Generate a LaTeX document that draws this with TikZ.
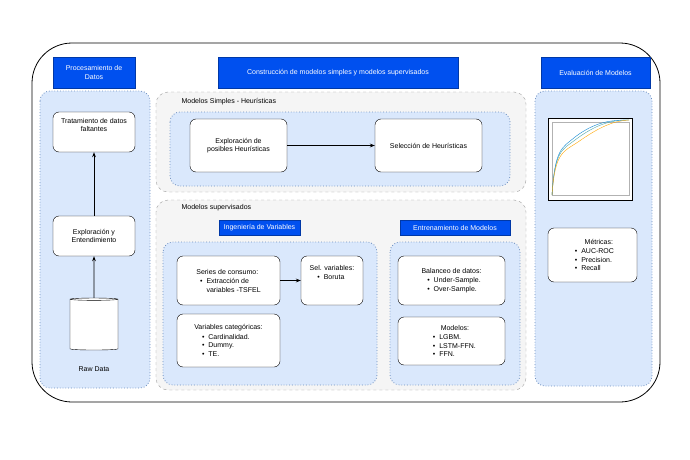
\documentclass[tikz,border=0pt]{standalone}
\usepackage{fontspec}
\setmainfont{Liberation Sans}
\usetikzlibrary{shapes.geometric,arrows.meta}
\definecolor{hb}{HTML}{0050EF}
\definecolor{lb}{HTML}{DAE8FC}
\definecolor{lbd}{HTML}{6C8EBF}
\definecolor{gp}{HTML}{F5F5F5}
\begin{document}
\begin{tikzpicture}[x=1pt,y=-1pt,font=\fontsize{7}{8.5}\selectfont,
 hdr/.style={fill=hb,draw=hb!70!black,text=white,align=center,inner sep=0pt},
 pan/.style={fill=lb,draw=lbd,dotted,thick,rounded corners=10pt},
 gpan/.style={fill=gp,draw=gray!80,dashed,rounded corners=12pt},
 box/.style={fill=white,draw=black,rounded corners=6pt,align=center,inner sep=0pt},
 arr/.style={-{Stealth[length=5pt]},thick}]
\useasboundingbox (0,0) rectangle (690,460);
\draw[rounded corners=40pt,thick] (32,43) rectangle (660,402);
% headers
\node[hdr,minimum width=82,minimum height=31] (h1) at (94,72.5) {Procesamiento de\\Datos};
\node[hdr,minimum width=240,minimum height=31] (h2) at (338,72.5) {Construcción de modelos simples y modelos supervisados};
\node[hdr,minimum width=109,minimum height=31] (h3) at (595.5,72.5) {Evaluación de Modelos};
% left panel
\draw[pan] (40,91) rectangle (150,388);
\node[box,minimum width=82,minimum height=40] (t) at (94,132) {Tratamiento de datos\\faltantes\\[6pt]};
\node[box,minimum width=82,minimum height=40] (e) at (94,236) {Exploración y\\Entendimiento};
\node[cylinder,shape border rotate=90,draw,fill=white,minimum width=48,minimum height=52,aspect=0.35] (c) at (94,325) {};
\node (rd) at (94,369) {Raw Data};
\draw[arr] (c) -- (e);
\draw[arr] (e) -- (t);
% simple models
\draw[gpan] (156,92) rectangle (526,192);
\node[anchor=west] (l1) at (178,102) {Modelos Simples - Heurísticas};
\draw[pan] (170,112) rectangle (510,186);
\node[box,minimum width=97,minimum height=53] (ep) at (238.5,145.5) {Exploración de\\posibles Heurísticas};
\node[box,minimum width=107,minimum height=53] (sh) at (428.5,145.5) {Selección de Heurísticas};
\draw[arr] (ep) -- (sh);
% supervised
\draw[gpan] (156,200) rectangle (526,390);
\node[anchor=west] (l2) at (178,208) {Modelos supervisados};
\node[hdr,minimum width=81,minimum height=15] (h4) at (259.5,227.5) {Ingeniería de Variables};
\node[hdr,minimum width=110,minimum height=15] (h5) at (455,227.5) {Entrenamiento de Modelos};
\draw[pan] (163,242) rectangle (377,385);
\draw[pan] (390,242) rectangle (520,385);
\node[box,minimum width=103,minimum height=49,align=left] (sc) at (228.5,280.5) {Series de consumo:\\[1pt]\ \ \textbullet\ \ Extracción de\\\phantom{\ \ \textbullet\ \ }variables -TSFEL};
\node[box,minimum width=62,minimum height=49,align=left] (sv) at (332,280.5) {Sel. variables:\\[1pt]\ \ \ \ \textbullet\ \ Boruta\\[8pt]};
\draw[arr] (sc) -- (sv);
\node[box,minimum width=103,minimum height=53,align=left] (vc) at (228.5,340.5) {Variables categóricas:\\[1pt]\ \ \ \ \textbullet\ \ Cardinalidad.\\\ \ \ \ \textbullet\ \ Dummy.\\\ \ \ \ \textbullet\ \ TE.};
\node[box,minimum width=107,minimum height=49,align=left] (bd) at (451.5,280.5) {Balanceo de datos:\\[1pt]\ \ \ \textbullet\ \ Under-Sample.\\\ \ \ \textbullet\ \ Over-Sample.};
\node[box,minimum width=107,minimum height=48,align=left] (md) at (451.5,341) {\ \ \ \ \ \ \ Modelos:\\[1pt]\ \ \ \textbullet\ \ LGBM.\\\ \ \ \textbullet\ \ LSTM-FFN.\\\ \ \ \textbullet\ \ FFN.};
% right panel
\draw[pan] (535,91) rectangle (652,386);
\draw[thick,fill=white] (548,118) rectangle (632,200);
\draw[gray!60,very thin] (552,122) rectangle (629,195);
\draw[teal!70,thin] (552,195) .. controls (555,150) and (562,150) .. (575,140) .. controls (595,125) and (610,120) .. (629,120);
\draw[cyan!70!blue,thin] (552,195) .. controls (555,148) and (562,148) .. (575,137) .. controls (595,122) and (610,120) .. (629,120);
\draw[orange!70!yellow,thin] (552,195) .. controls (555,152) and (563,152) .. (578,142) .. controls (598,128) and (612,121) .. (629,120);
\node[box,minimum width=89,minimum height=54,align=left] (mt) at (592.5,255) {\ \ \ \ \ \ \ Métricas:\\[1pt]\ \ \textbullet\ \ AUC-ROC\\\ \ \textbullet\ \ Precision.\\\ \ \textbullet\ \ Recall};
\end{tikzpicture}
\end{document}
